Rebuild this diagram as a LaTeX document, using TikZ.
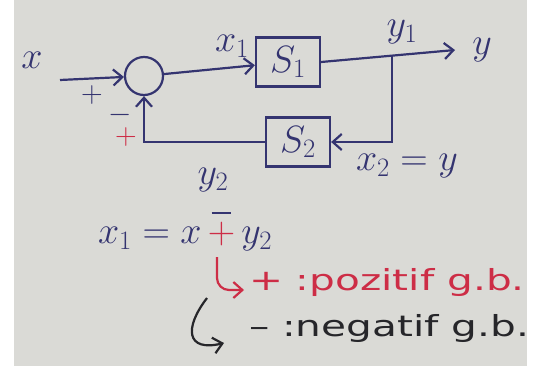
\documentclass[tikz,border=0pt]{standalone}
\usepackage{fix-cm}
\usepackage{amsmath}
\usepackage{fontspec}
\newfontfamily\handfont[FakeStretch=1.4]{DejaVu Sans}
\usetikzlibrary{arrows.meta,positioning}
\definecolor{paper}{RGB}{218,218,214}
\definecolor{ink}{RGB}{52,52,112}
\definecolor{redink}{RGB}{205,45,70}
\definecolor{blackink}{RGB}{38,38,42}

\begin{document}
\begin{tikzpicture}[
        x=1pt, y=-1pt,
        line width=2.2pt,
        font=\fontsize{38}{40}\selectfont,
        block/.style={draw=ink, minimum width=64pt, minimum height=49pt, inner sep=0pt, text=ink},
        sumnode/.style={draw=ink, circle, minimum size=38pt, inner sep=0pt},
        arrow/.style={-{Straight Barb[length=9pt,width=16pt]}, draw=ink},
        lbl/.style={text=ink, inner sep=0pt},
        sign/.style={inner sep=0pt, font=\fontsize{30}{32}\selectfont},
        note/.style={anchor=west, inner sep=0pt, font=\handfont\fontsize{29}{31}\selectfont}
    ]
        % Paper
        \fill[white] (0,0) rectangle (548,370);
        \fill[paper] (14,0) rectangle (527,366);
        \useasboundingbox (0,0) rectangle (548,370);

        % Blocks
        \node[sumnode] (sum) at (144,76) {};
        \node[block] (s1) at (288,62) {$S_1$};
        \node[block] (s2) at (298,142) {$S_2$};

        % Input and forward path
        \node[lbl] (x) at (32,60) {$x$};
        \coordinate (xin) at (60,80);
        \draw[arrow] (xin) -- (sum);
        \draw[arrow] (sum) -- (s1);
        \node[lbl] (x1) at (232,46) {$x_1$};

        % Output
        \coordinate (yout) at (455,50);
        \coordinate (branch) at (392,56);
        \draw[arrow] (s1.east) -- (yout);
        \node[lbl] (y1) at (402,32) {$y_1$};
        \node[lbl] (y) at (482,50) {$y$};

        % Feedback path
        \draw[arrow] (branch) |- (s2.east);
        \draw[arrow] (s2.west) -| (sum.south);
        \node[lbl] (y2) at (213,180) {$y_2$};
        \node[lbl] (x2) at (407,166) {$x_2 = y$};

        % Signs
        \node[sign, text=ink] (pin) at (92,95) {$+$};
        \node[sign, text=ink] (mfb) at (120,115) {$-$};
        \node[sign, text=redink] (pfb) at (126,137) {$+$};

        % Equation
        \node[lbl, anchor=west] (eqa) at (97,238) {$x_1 = x$};
        \node[lbl, text=redink, base right=4pt of eqa] (pm) {$+$};
        \node[lbl, base right=4pt of pm] (eqb) {$y_2$};
        \draw[ink] ([shift={(5,-21)}]pm.west) -- ([shift={(-5,-21)}]pm.east);

        % Positive / negative feedback
        \coordinate (hr0) at (217,257);
        \coordinate (hr1) at (244,290);
        \draw[arrow, draw=redink, rounded corners=12pt] (hr0) |- (hr1);
        \node[note, text=redink] (pos) at (248,282) {+ :pozitif g.b.};
        \coordinate (hb0) at (207,298);
        \coordinate (hb1) at (224,343);
        \draw[arrow, draw=blackink] (hb0) .. controls (184,328) and (186,352) .. (hb1);
        \node[note, text=blackink] (neg) at (248,328) {– :negatif g.b.};

    \end{tikzpicture}
\end{document}
